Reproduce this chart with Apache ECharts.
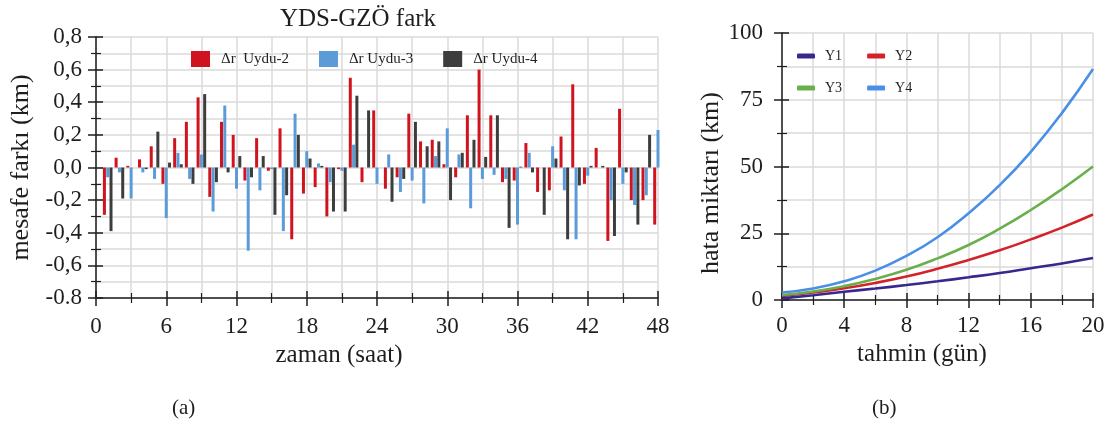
<!DOCTYPE html>
<html>
<head>
<meta charset="utf-8">
<script src="https://cdn.jsdelivr.net/npm/echarts@6/dist/echarts.min.js"></script>
<style>
html,body{margin:0;padding:0;background:#fff;}
#c{width:1111px;height:434px;}
</style>
</head>
<body>
<div id="c"></div>
<script>
// ---------- Data: panel (a) ----------
const hours = [1,2,3,4,5,6,7,8,9,10,11,12,13,14,15,16,17,18,19,20,21,22,23,24,
               25,26,27,28,29,30,31,32,33,34,35,36,37,38,39,40,41,42,43,44,45,46,47,48];
const uydu2 = [-0.29,0.06,0.01,0.05,0.13,-0.10,0.18,0.28,0.43,-0.18,0.28,0.20,
               -0.08,0.18,-0.02,0.24,-0.44,-0.16,-0.12,-0.30,-0.01,0.55,-0.09,0.35,
               -0.13,-0.06,0.33,0.16,0.17,0.02,-0.06,0.32,0.60,0.32,-0.09,-0.08,
               0.15,-0.15,-0.14,0.19,0.51,-0.10,0.12,-0.45,0.36,-0.20,-0.20,-0.35];
const uydu3 = [-0.06,-0.03,-0.19,-0.03,-0.07,-0.31,0.09,-0.07,0.08,-0.27,0.38,-0.13,
               -0.51,-0.14,-0.01,-0.39,0.33,0.10,0.025,-0.09,-0.02,0.14,0.0,-0.10,
               0.08,-0.15,-0.08,-0.22,0.07,0.24,0.08,-0.25,-0.07,-0.045,-0.07,-0.35,
               0.09,0.0,0.13,-0.14,-0.44,-0.05,0.0,-0.20,-0.10,-0.23,-0.17,0.23];
const uydu4 = [-0.39,-0.19,0.0,-0.01,0.22,0.03,0.02,-0.10,0.45,-0.09,-0.03,0.07,
               -0.06,0.07,-0.29,-0.17,0.20,0.055,0.01,-0.27,-0.27,0.44,0.35,0.0,
               -0.21,-0.07,0.28,0.13,0.16,-0.20,0.09,0.17,0.065,0.32,-0.37,0.005,
               -0.03,-0.29,0.055,-0.44,-0.11,0.01,0.01,-0.42,-0.03,-0.35,0.20,null];
const seriesNamesA = ['Δr  Uydu-2','Δr Uydu-3','Δr Uydu-4'];
const yTickValuesA = [-0.8,-0.6,-0.4,-0.2,0,0.2,0.4,0.6,0.8];
const yTickLabelsA = ['-0.8','-0,6','-0,4','-0,2','0,0','0,2','0,4','0,6','0,8'];

// ---------- Data: panel (b) ----------
const days = [0,2,4,6,8,10,12,14,16,18,20];
const Y1 = [0.6,1.8,3.1,4.3,5.6,7.0,8.5,10.1,11.9,13.7,15.7];
const Y2 = [1.5,2.8,4.4,6.4,8.8,11.7,15.0,18.6,22.7,27.1,32.0];
const Y3 = [1.9,3.2,5.2,7.9,11.3,15.6,20.6,26.7,33.7,41.5,50.0];
const Y4 = [2.8,4.3,7.0,11.0,16.5,23.5,32.5,43.0,55.5,70.0,86.5];
const seriesNamesB = ['Y1','Y2','Y3','Y4'];

// ---------- Styling ----------
const FONT = 'Liberation Serif';
const TXT = '#1e1e1e';
const GRIDC = '#dadada';
const AXC = '#1e1e1e';
const barColors = ['#d0141f','#5b9bd8','#3d3d3d'];
const lineColors = ['#36288c','#d3232a','#6aaf4c','#4a8fe7'];

const pair = (xs, ys) => xs.map((x, i) => [x, ys[i]]);

function mainAxis(opts) {
  return Object.assign({
    type: 'value',
    axisLine: {show: true, onZero: false, lineStyle: {color: AXC, width: 1.5}},
    axisTick: {show: true, length: 8, lineStyle: {color: AXC, width: 1.5}},
    minorTick: {show: true, splitNumber: 2, length: 5, lineStyle: {color: AXC, width: 1.2}},
    splitLine: {show: true, lineStyle: {color: GRIDC, width: 1.5}},
    minorSplitLine: {show: true, lineStyle: {color: GRIDC, width: 1.5}}
  }, opts);
}
function innerAxis(opts) {
  return Object.assign({
    type: 'value',
    axisLine: {show: false, onZero: false},
    axisTick: {show: true, inside: true, length: 7, lineStyle: {color: AXC, width: 1.5}},
    minorTick: {show: true, splitNumber: 2, length: 5, lineStyle: {color: AXC, width: 1.2}},
    splitLine: {show: false},
    minorSplitLine: {show: false},
    axisLabel: {show: false}
  }, opts);
}
const tickLabel = (margin, extra) => Object.assign({
  color: TXT, fontFamily: FONT, fontSize: 23, margin: margin
}, extra || {});
const nameStyle = (size, padding) => ({
  color: TXT, fontFamily: FONT, fontSize: size, padding: padding || 0
});

const chart = echarts.init(document.getElementById('c'), null, {renderer: 'canvas'});

const barSeries = [uydu2, uydu3, uydu4].map((vals, i) => ({
  name: seriesNamesA[i],
  type: 'bar',
  xAxisIndex: 0, yAxisIndex: 0,
  data: pair(hours, vals),
  barWidth: 3,
  barGap: '10%',
  clip: false,
  itemStyle: {color: barColors[i]},
  emphasis: {disabled: true}
}));

const lineSeries = [Y1, Y2, Y3, Y4].map((vals, i) => ({
  name: seriesNamesB[i],
  type: 'line',
  xAxisIndex: 2, yAxisIndex: 2,
  data: pair(days, vals),
  smooth: true,
  showSymbol: false,
  lineStyle: {color: lineColors[i], width: 2.6},
  itemStyle: {color: lineColors[i]},
  z: 3 + (i === 0 ? 3 : 0)
}));

chart.setOption({
  animation: false,
  backgroundColor: '#fff',
  textStyle: {fontFamily: FONT},
  title: {
    text: 'YDS-GZÖ fark',
    left: 353, top: 2, textAlign: 'center',
    textStyle: {fontFamily: FONT, fontSize: 25, fontWeight: 'normal', color: TXT}
  },
  legend: [
    {
      data: seriesNamesA,
      left: 186, top: 46,
      itemWidth: 19, itemHeight: 16, itemGap: 30,
      icon: 'rect',
      textStyle: {fontFamily: FONT, fontSize: 15, color: TXT, padding: [0, 0, 0, 6]}
    },
    {
      data: ['Y1','Y2'],
      left: 792, top: 44,
      itemWidth: 18, itemHeight: 5, itemGap: 25,
      icon: 'roundRect',
      textStyle: {fontFamily: FONT, fontSize: 14, color: TXT, padding: [0, 0, 0, 5]}
    },
    {
      data: ['Y3','Y4'],
      left: 792, top: 76,
      itemWidth: 18, itemHeight: 5, itemGap: 25,
      icon: 'roundRect',
      textStyle: {fontFamily: FONT, fontSize: 14, color: TXT, padding: [0, 0, 0, 5]}
    }
  ],
  grid: [
    {left: 96, top: 37, width: 562, height: 261, containLabel: false},
    {left: 782, top: 33, width: 311, height: 267, containLabel: false}
  ],
  xAxis: [
    mainAxis({
      gridIndex: 0, min: 0, max: 48, interval: 6, position: 'bottom',
      name: 'zaman (saat)', nameLocation: 'middle', nameGap: 31,
      nameTextStyle: nameStyle(25, [0, 76, 0, 0]),
      axisLabel: tickLabel(17)
    }),
    innerAxis({gridIndex: 0, min: 0, max: 48, interval: 6, position: 'bottom'}),
    mainAxis({
      gridIndex: 1, min: 0, max: 20, interval: 4, position: 'bottom',
      name: 'tahmin (gün)', nameLocation: 'middle', nameGap: 30,
      nameTextStyle: nameStyle(25, [0, 31, 0, 0]),
      axisLabel: tickLabel(14)
    }),
    innerAxis({gridIndex: 1, min: 0, max: 20, interval: 4, position: 'bottom'})
  ],
  yAxis: [
    mainAxis({
      gridIndex: 0, min: -0.8, max: 0.8, interval: 0.2, position: 'left',
      name: 'mesafe farkı (km)', nameLocation: 'middle', nameGap: 62,
      nameTextStyle: nameStyle(26),
      axisLabel: tickLabel(14, {
        formatter: v => {
          const idx = yTickValuesA.findIndex(t => Math.abs(t - v) < 1e-6);
          return idx >= 0 ? yTickLabelsA[idx] : '';
        }
      })
    }),
    innerAxis({gridIndex: 0, min: -0.8, max: 0.8, interval: 0.2, position: 'left'}),
    mainAxis({
      gridIndex: 1, min: 0, max: 100, interval: 25, position: 'left',
      name: 'hata miktarı (km)', nameLocation: 'middle', nameGap: 58,
      nameTextStyle: nameStyle(26, [0, 33, 0, 0]),
      axisLabel: tickLabel(19)
    }),
    innerAxis({gridIndex: 1, min: 0, max: 100, interval: 25, position: 'left'})
  ],
  graphic: [
    {type: 'text', left: 172, top: 398, style: {text: '(a)', font: '21px "Liberation Serif"', fill: TXT}},
    {type: 'text', left: 872, top: 398, style: {text: '(b)', font: '21px "Liberation Serif"', fill: TXT}}
  ],
  series: barSeries.concat(lineSeries)
});
</script>
</body>
</html>
